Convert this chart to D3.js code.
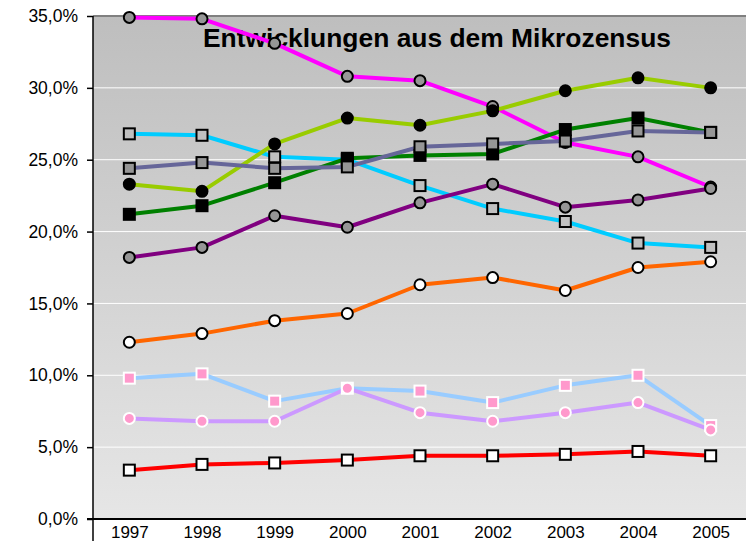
<!DOCTYPE html>
<html lang="de">
<head>
<meta charset="UTF-8">
<title>Entwicklungen aus dem Mikrozensus</title>
<script src="https://d3js.org/d3.v7.min.js"></script>
<style>
    body { margin: 0; background: #fff; }
    svg { display: block; font-family: Arial, "Liberation Sans", sans-serif; }
</style>
</head>
<body>
<div id="chart"></div>
<script>
    // Years on the x axis
    const years = ["1997", "1998", "1999", "2000", "2001", "2002", "2003", "2004", "2005"];

    // Series values in percent
    const magenta    = [34.9, 34.8, 33.1, 30.8, 30.5, 28.7, 26.2, 25.2, 23.1];
    const limeGreen  = [23.3, 22.8, 26.1, 27.9, 27.4, 28.4, 29.8, 30.7, 30.0];
    const darkGreen  = [21.2, 21.8, 23.4, 25.1, 25.3, 25.4, 27.1, 27.9, 26.9];
    const slate      = [24.4, 24.8, 24.4, 24.5, 25.9, 26.1, 26.3, 27.0, 26.9];
    const cyan       = [26.8, 26.7, 25.2, 25.0, 23.2, 21.6, 20.7, 19.2, 18.9];
    const purple     = [18.2, 18.9, 21.1, 20.3, 22.0, 23.3, 21.7, 22.2, 23.0];
    const orange     = [12.3, 12.9, 13.8, 14.3, 16.3, 16.8, 15.9, 17.5, 17.9];
    const lightBlue  = [9.8, 10.1, 8.2, 9.1, 8.9, 8.1, 9.3, 10.0, 6.5];
    const lavender   = [7.0, 6.8, 6.8, 9.1, 7.4, 6.8, 7.4, 8.1, 6.2];
    const red        = [3.4, 3.8, 3.9, 4.1, 4.4, 4.4, 4.5, 4.7, 4.4];

    const yTicks = [0, 5, 10, 15, 20, 25, 30, 35];

    // line colour, marker shape, marker fill, marker stroke
    const series = [
        { values: magenta,   line: "#ff00ff", shape: "circle", fill: "#969696", stroke: "#000" },
        { values: cyan,      line: "#00ccff", shape: "square", fill: "#c0c0c0", stroke: "#000" },
        { values: limeGreen, line: "#99cc00", shape: "circle", fill: "#000",    stroke: "#000" },
        { values: darkGreen, line: "#008000", shape: "square", fill: "#000",    stroke: "#000" },
        { values: slate,     line: "#666699", shape: "square", fill: "#969696", stroke: "#000" },
        { values: purple,    line: "#800080", shape: "circle", fill: "#969696", stroke: "#000" },
        { values: orange,    line: "#ff6600", shape: "circle", fill: "#fff",    stroke: "#000" },
        { values: lightBlue, line: "#99ccff", shape: "square", fill: "#ff99cc", stroke: "#fff" },
        { values: lavender,  line: "#cc99ff", shape: "circle", fill: "#ff99cc", stroke: "#fff" },
        { values: red,       line: "#ff0000", shape: "square", fill: "#fff",    stroke: "#000" }
    ];

    const width = 746, height = 541;
    const plot = { left: 93, right: 747, top: 16, bottom: 519 };

    const svg = d3.select("#chart").append("svg")
        .attr("width", width)
        .attr("height", height);

    const x = d3.scalePoint()
        .domain(years)
        .range([plot.left, plot.right])
        .padding(0.5);

    const y = d3.scaleLinear()
        .domain([0, 35])
        .range([plot.bottom, plot.top]);

    // plot background gradient
    const grad = svg.append("defs").append("linearGradient")
        .attr("id", "bg").attr("x1", 0).attr("y1", 0).attr("x2", 0).attr("y2", 1);
    grad.append("stop").attr("offset", "0%").attr("stop-color", "#bebebe");
    grad.append("stop").attr("offset", "100%").attr("stop-color", "#e6e6e6");

    svg.append("rect")
        .attr("x", plot.left).attr("y", plot.top)
        .attr("width", plot.right - plot.left)
        .attr("height", plot.bottom - plot.top)
        .attr("fill", "url(#bg)");

    // gridlines
    svg.append("g")
        .selectAll("line")
        .data(yTicks.slice(1, -1))
        .join("line")
        .attr("x1", plot.left).attr("x2", plot.right)
        .attr("y1", d => y(d)).attr("y2", d => y(d))
        .attr("stroke", "#fff")
        .attr("stroke-width", 1);

    // top border of plot area
    svg.append("line")
        .attr("x1", plot.left).attr("x2", plot.right)
        .attr("y1", plot.top).attr("y2", plot.top)
        .attr("stroke", "#808080").attr("stroke-width", 2);

    // y axis
    const yAxis = svg.append("g")
        .attr("transform", `translate(${plot.left},0)`)
        .call(d3.axisLeft(y)
            .tickValues(yTicks)
            .tickSize(6)
            .tickPadding(9)
            .tickFormat(d => d3.format(".1f")(d).replace(".", ",") + "%"));
    yAxis.select(".domain").remove();
    yAxis.selectAll(".tick line").attr("stroke", "#000").attr("stroke-width", 1.5);
    yAxis.selectAll(".tick text")
        .attr("fill", "#000")
        .style("font-size", "17.5px");

    // x axis
    const xAxis = svg.append("g")
        .attr("transform", `translate(0,${plot.bottom})`)
        .call(d3.axisBottom(x).tickSize(0).tickPadding(7));
    xAxis.select(".domain").remove();
    xAxis.selectAll(".tick text")
        .attr("fill", "#000")
        .attr("dy", "0.71em")
        .style("font-size", "17px");

    svg.append("line")
        .attr("x1", plot.left - 6).attr("x2", plot.right)
        .attr("y1", plot.bottom).attr("y2", plot.bottom)
        .attr("stroke", "#000").attr("stroke-width", 2);
    svg.append("line")
        .attr("x1", plot.left).attr("x2", plot.left)
        .attr("y1", plot.top).attr("y2", height)
        .attr("stroke", "#000").attr("stroke-width", 1.5);

    // title
    svg.append("text")
        .attr("x", 437)
        .attr("y", 47)
        .attr("text-anchor", "middle")
        .attr("textLength", 468)
        .attr("lengthAdjust", "spacingAndGlyphs")
        .style("font-size", "25px")
        .style("font-weight", "bold")
        .text("Entwicklungen aus dem Mikrozensus");

    const line = d3.line()
        .x((d, i) => x(years[i]))
        .y(d => y(d));

    // lines first, markers on top
    svg.append("g")
        .selectAll("path")
        .data(series)
        .join("path")
        .attr("d", s => line(s.values))
        .attr("fill", "none")
        .attr("stroke", s => s.line)
        .attr("stroke-width", 4)
        .attr("stroke-linejoin", "round");

    series.forEach(s => {
        const g = svg.append("g");
        if (s.shape === "circle") {
            g.selectAll("circle")
                .data(s.values)
                .join("circle")
                .attr("cx", (d, i) => x(years[i]))
                .attr("cy", d => y(d))
                .attr("r", 5.5)
                .attr("fill", s.fill)
                .attr("stroke", s.stroke)
                .attr("stroke-width", 2);
        } else {
            g.selectAll("rect")
                .data(s.values)
                .join("rect")
                .attr("x", (d, i) => x(years[i]) - 5.5)
                .attr("y", d => y(d) - 5.5)
                .attr("width", 11)
                .attr("height", 11)
                .attr("fill", s.fill)
                .attr("stroke", s.stroke)
                .attr("stroke-width", 2);
        }
    });
</script>
</body>
</html>
